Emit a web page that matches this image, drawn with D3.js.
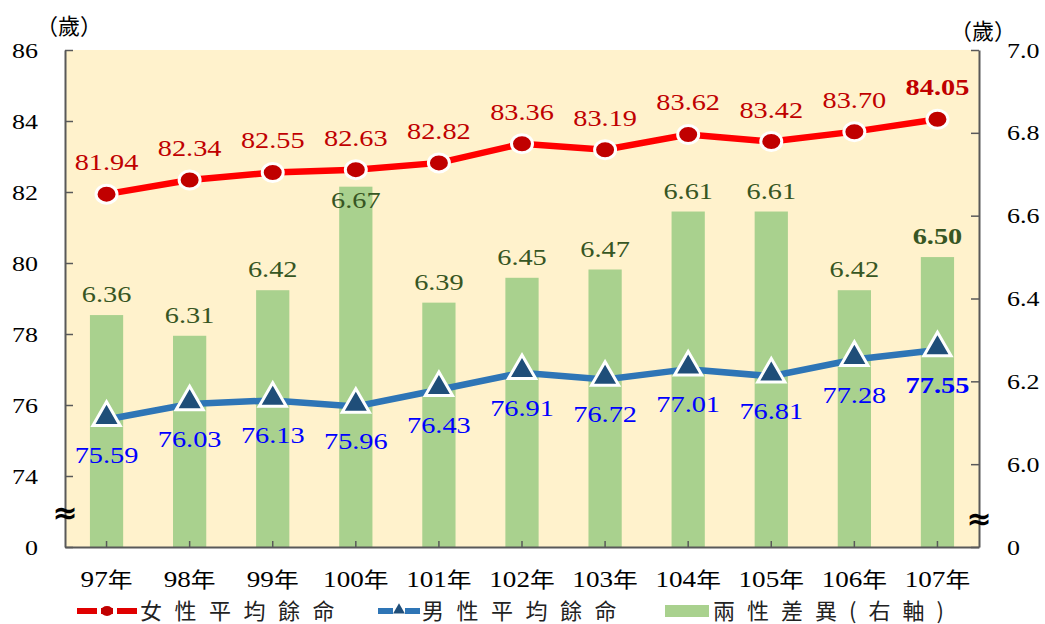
<!DOCTYPE html>
<html>
<head>
<meta charset="utf-8">
<script src="https://cdn.jsdelivr.net/npm/d3@7"></script>
<style>
  body { margin: 0; background: #fff; }
</style>
</head>
<body>
<svg id="chart" width="1045" height="624"></svg>
<script>
const years = ["97年", "98年", "99年", "100年", "101年", "102年", "103年", "104年", "105年", "106年", "107年"],
    female = [81.94, 82.34, 82.55, 82.63, 82.82, 83.36, 83.19, 83.62, 83.42, 83.70, 84.05],
    male = [75.59, 76.03, 76.13, 75.96, 76.43, 76.91, 76.72, 77.01, 76.81, 77.28, 77.55],
    gap = [6.36, 6.31, 6.42, 6.67, 6.39, 6.45, 6.47, 6.61, 6.61, 6.42, 6.50],
    leftTicks = [72, 74, 76, 78, 80, 82, 84, 86],
    rightTicks = [5.8, 6.0, 6.2, 6.4, 6.6, 6.8, 7.0],
    legendNames = ["女性平均餘命", "男性平均餘命", "兩性差異(右軸)"];

const serif = '"Liberation Serif", "DejaVu Serif", "Times New Roman", Times, serif',
    cjk = '"Noto Sans CJK TC", "Noto Sans CJK SC", sans-serif',
    stretch = 1.18;

const margin = {top: 50, left: 65, right: 66, bottom: 77},
    width = 1045 - margin.left - margin.right,
    height = 624 - margin.top - margin.bottom;

const svg = d3.select("#chart");
const g = svg.append("g")
    .attr("transform", "translate(" + margin.left + "," + margin.top + ")");

const x = d3.scaleBand().domain(years).range([0, width]),
    yL = d3.scaleLinear().domain([72, 86]).range([height, 0]),
    yR = d3.scaleLinear().domain([5.8, 7.0]).range([height, 0]);

const cx = d => x(d) + x.bandwidth() / 2;

// wide serif label, like the stretched picture
function wideText(parent, tx, ty, str, size, color, bold) {
    return parent.append("text")
        .attr("transform", "translate(" + tx + "," + ty + ") scale(" + stretch + ",1)")
        .attr("text-anchor", "middle")
        .attr("font-size", size)
        .attr("font-weight", bold ? "bold" : "normal")
        .attr("fill", color)
        .style("font-family", serif)
        .text(str);
}

// plot background
g.append("rect")
    .attr("width", width).attr("height", height)
    .attr("fill", "#fff2cc");

// bars (right axis)
const barW = x.bandwidth() * 0.4;
g.selectAll(".bar")
    .data(gap)
    .enter().append("rect")
    .attr("class", "bar")
    .attr("x", (d, i) => cx(years[i]) - barW / 2)
    .attr("y", d => yR(d))
    .attr("width", barW)
    .attr("height", d => height - yR(d))
    .attr("fill", "#a9d18e");

gap.forEach((d, i) => {
    // put the label inside the bar when it would hit the red line
    var above = yR(d) - 13,
        inside = above - 20 < yL(female[i]) + 12;
    wideText(g, cx(years[i]), inside ? yR(d) + 21 : above, d.toFixed(2), 24, "#375623", i == gap.length - 1);
});

// axes
function styleAxis(sel) {
    sel.select(".domain").attr("stroke", "#595959").attr("stroke-width", 2);
    sel.selectAll(".tick line").attr("stroke", "#595959").attr("stroke-width", 1.5);
    sel.selectAll(".tick text").attr("font-size", 22).attr("fill", "#000")
        .style("font-family", serif)
        .each(function() {
            var t = d3.select(this);
            t.attr("x", +t.attr("x") / stretch).attr("transform", "scale(" + stretch + ",1)");
        });
}

g.append("g")
    .call(d3.axisLeft(yL).tickValues(leftTicks)
        .tickFormat(d => d == 72 ? "0" : d)
        .tickSizeInner(-8).tickSizeOuter(0).tickPadding(27))
    .call(styleAxis);

g.append("g")
    .attr("transform", "translate(" + width + ",0)")
    .call(d3.axisRight(yR).tickValues(rightTicks)
        .tickFormat(d => d == 5.8 ? "0" : d.toFixed(1))
        .tickSizeInner(-8).tickSizeOuter(0).tickPadding(28))
    .call(styleAxis);

const xAxis = g.append("g")
    .attr("transform", "translate(0," + height + ")")
    .call(d3.axisBottom(x).tickSizeInner(-6).tickSizeOuter(0))
    .call(styleAxis);
xAxis.selectAll(".tick text").remove();

// x labels: numbers serif, 年 CJK
years.forEach(d => {
    var t = wideText(g, cx(d), height + 40, "", 23, "#000", false);
    t.append("tspan").text(d.replace("年", ""));
    t.append("tspan").style("font-family", cjk).attr("font-size", 21).text("年");
});

// axis break marks
[0, width].forEach((bx, i) => {
    g.append("text")
        .attr("x", bx).attr("y", yL(73) + (i ? 17 : 11))
        .attr("text-anchor", "middle")
        .attr("font-size", 30)
        .attr("font-weight", "bold")
        .attr("fill", "#000")
        .style("font-family", "DejaVu Sans")
        .text("≈");
});

// units
svg.append("text").attr("x", 36).attr("y", 34).attr("font-size", 22)
    .style("font-family", cjk).text("（歲）");
svg.append("text").attr("x", 950).attr("y", 39).attr("font-size", 22)
    .style("font-family", cjk).text("（歲）");

// female line
const lineL = d3.line().x((d, i) => cx(years[i])).y(d => yL(d));
g.append("path")
    .datum(female)
    .attr("d", lineL)
    .attr("fill", "none")
    .attr("stroke", "#ff0000")
    .attr("stroke-width", 6.5);

g.selectAll(".fdot")
    .data(female)
    .enter().append("ellipse")
    .attr("cx", (d, i) => cx(years[i]))
    .attr("cy", d => yL(d))
    .attr("rx", 10.5)
    .attr("ry", 9)
    .attr("fill", "#c00000")
    .attr("stroke", "#fff")
    .attr("stroke-width", 3);

female.forEach((d, i) => {
    wideText(g, cx(years[i]), yL(d) - 24, d.toFixed(2), 24, "#c00000", i == female.length - 1);
});

// male line
g.append("path")
    .datum(male)
    .attr("d", lineL)
    .attr("fill", "none")
    .attr("stroke", "#2e75b6")
    .attr("stroke-width", 6.5);

const tri = d3.symbol().type(d3.symbolTriangle).size(320);
g.selectAll(".mtri")
    .data(male)
    .enter().append("path")
    .attr("d", tri)
    .attr("transform", (d, i) => "translate(" + cx(years[i]) + "," + (yL(d) - 2) + ")")
    .attr("fill", "#1f4e79")
    .attr("stroke", "#fff")
    .attr("stroke-width", 3);

male.forEach((d, i) => {
    wideText(g, cx(years[i]), yL(d) + 43, d.toFixed(2), 24, "#0000ff", i == male.length - 1);
});

// legend
const ly = 611;
const leg = svg.append("g");
leg.append("line").attr("x1", 77).attr("x2", 137).attr("y1", ly).attr("y2", ly)
    .attr("stroke", "#e00000").attr("stroke-width", 6).attr("stroke-dasharray", "20,4,12,4,20");
leg.append("ellipse").attr("cx", 107).attr("cy", ly).attr("rx", 6).attr("ry", 5).attr("fill", "#c00000");
leg.append("line").attr("x1", 378).attr("x2", 420).attr("y1", ly).attr("y2", ly)
    .attr("stroke", "#2e75b6").attr("stroke-width", 6).attr("stroke-dasharray", "15,12,15");
leg.append("path").attr("d", d3.symbol().type(d3.symbolTriangle).size(60))
    .attr("transform", "translate(399," + (ly - 1) + ")").attr("fill", "#1f4e79");
leg.append("rect").attr("x", 665).attr("y", ly - 6).attr("width", 44).attr("height", 12)
    .attr("fill", "#a9d18e");

[140, 422, 713].forEach((lx, i) => {
    leg.append("text")
        .attr("x", lx).attr("y", ly + 8)
        .attr("font-size", 22)
        .attr("letter-spacing", i == 2 ? 12 : 12.5)
        .style("font-family", cjk)
        .attr("fill", "#222")
        .text(legendNames[i]);
});
</script>
</body>
</html>
